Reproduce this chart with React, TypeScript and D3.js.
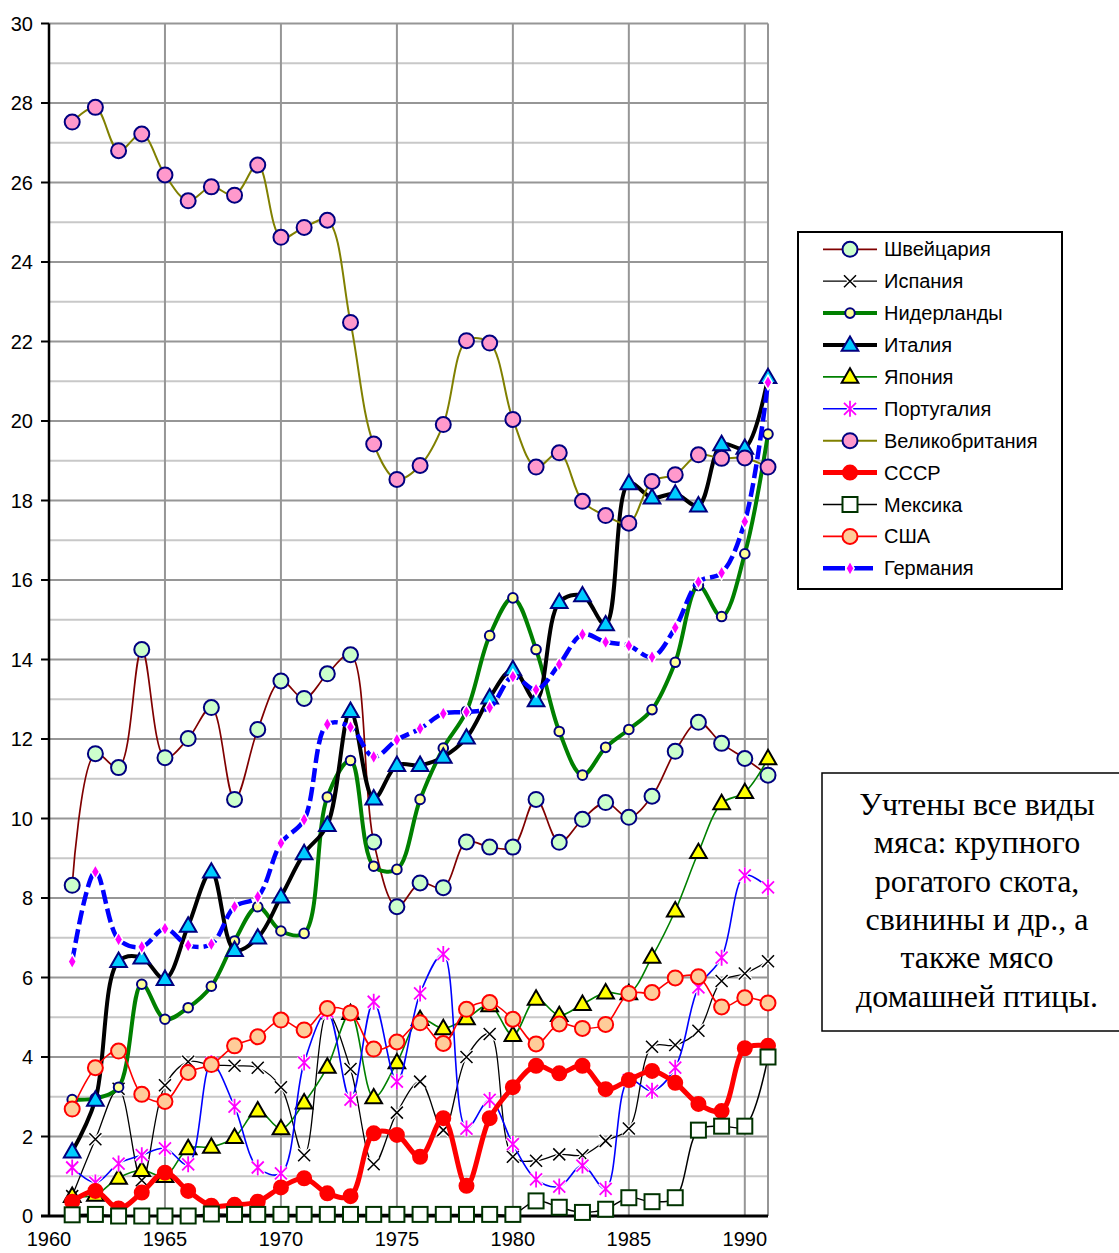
import React from 'react';
import * as d3 from 'd3';

// Production of meat per capita, 1961-1991
const years = [1961, 1962, 1963, 1964, 1965, 1966, 1967, 1968, 1969, 1970, 1971, 1972, 1973, 1974, 1975, 1976,
    1977, 1978, 1979, 1980, 1981, 1982, 1983, 1984, 1985, 1986, 1987, 1988, 1989, 1990, 1991];
const xTicks = [1960, 1965, 1970, 1975, 1980, 1985, 1990];
const yTicks = [0, 2, 4, 6, 8, 10, 12, 14, 16, 18, 20, 22, 24, 26, 28, 30];

const swiss = [8.32, 11.63, 11.28, 14.25, 11.53, 12.01, 12.79, 10.48, 12.24, 13.46, 13.02, 13.64, 14.12, 9.41, 7.78, 8.38,
    8.26, 9.41, 9.28, 9.28, 10.48, 9.4, 9.98, 10.4, 10.03, 10.56, 11.69, 12.42, 11.89, 11.51, 11.09];
const spain = [0.5, 1.93, 3.2, 0.9, 3.29, 3.88, 3.8, 3.78, 3.73, 3.24, 1.53, 5.1, 3.7, 1.3, 2.6, 3.38,
    2.16, 4.0, 4.58, 1.49, 1.39, 1.55, 1.53, 1.89, 2.2, 4.26, 4.3, 4.66, 5.91, 6.1, 6.41];
const netherlands = [2.93, 2.96, 3.24, 5.83, 4.95, 5.24, 5.78, 6.92, 7.78, 7.17, 7.11, 10.54, 11.46, 8.8, 8.72, 10.48,
    11.77, 12.7, 14.6, 15.55, 14.25, 12.19, 11.09, 11.79, 12.24, 12.74, 13.93, 15.86, 15.08, 16.66, 19.67];
const italy = [1.62, 2.92, 6.41, 6.5, 5.96, 7.3, 8.66, 6.69, 7.0, 8.03, 9.12, 9.83, 12.7, 10.5, 11.34, 11.34,
    11.55, 12.03, 13.04, 13.75, 12.97, 15.44, 15.61, 14.88, 18.43, 18.07, 18.17, 17.87, 19.41, 19.32, 21.1];
const japan = [0.5, 0.53, 0.96, 1.15, 1.0, 1.7, 1.74, 1.98, 2.65, 2.2, 2.85, 3.75, 5.1, 2.98, 3.86, 4.95,
    4.72, 4.97, 5.3, 4.55, 5.46, 5.05, 5.33, 5.62, 5.6, 6.52, 7.68, 9.15, 10.38, 10.66, 11.51];
const portugal = [1.22, 0.84, 1.32, 1.53, 1.7, 1.3, 3.84, 2.75, 1.22, 1.07, 3.86, 5.14, 2.93, 5.39, 3.38, 5.6,
    6.59, 2.2, 2.92, 1.81, 0.92, 0.74, 1.27, 0.68, 3.42, 3.15, 3.73, 5.75, 6.5, 8.57, 8.27];
const britain = [27.52, 27.89, 26.8, 27.22, 26.19, 25.54, 25.89, 25.68, 26.44, 24.62, 24.87, 25.05, 22.48, 19.42, 18.53, 18.88,
    19.91, 22.02, 21.96, 20.04, 18.84, 19.2, 17.98, 17.62, 17.43, 18.48, 18.65, 19.15, 19.06, 19.07, 18.84];
const ussr = [0.36, 0.63, 0.19, 0.59, 1.09, 0.63, 0.26, 0.28, 0.36, 0.72, 0.95, 0.57, 0.5, 2.08, 2.04, 1.49,
    2.46, 0.76, 2.46, 3.24, 3.78, 3.59, 3.78, 3.19, 3.42, 3.65, 3.35, 2.82, 2.64, 4.22, 4.28];
const mexico = [0.03, 0.04, 0, 0, 0, 0, 0.05, 0.04, 0.04, 0.04, 0.04, 0.04, 0.04, 0.04, 0.04, 0.04,
    0.04, 0.04, 0.04, 0.04, 0.38, 0.22, 0.09, 0.17, 0.46, 0.36, 0.46, 2.16, 2.26, 2.26, 4.0];
const usa = [2.69, 3.73, 4.15, 3.06, 2.88, 3.61, 3.81, 4.28, 4.51, 4.93, 4.68, 5.22, 5.11, 4.2, 4.38, 4.86,
    4.34, 5.2, 5.37, 4.95, 4.33, 4.83, 4.72, 4.82, 5.6, 5.62, 5.99, 6.02, 5.26, 5.49, 5.36];
const germany = [6.4, 8.66, 6.96, 6.77, 7.23, 6.81, 6.84, 7.78, 8.03, 9.38, 9.97, 12.37, 12.3, 11.55, 11.98, 12.26,
    12.64, 12.68, 12.79, 13.57, 13.24, 13.88, 14.63, 14.44, 14.35, 14.06, 14.8, 15.95, 16.18, 17.47, 20.97];

const noteLines = ['Учтены все виды', 'мяса: крупного', 'рогатого скота,', 'свинины и др., а', 'также мясо', 'домашней птицы.'];

const series = [
    { name: 'Швейцария', values: swiss, color: '#800000', lw: 1.7, marker: 'circle', fill: '#CCFFCC', stroke: '#000080', r: 7.5 },
    { name: 'Испания', values: spain, color: '#000000', lw: 1.3, marker: 'x' },
    { name: 'Нидерланды', values: netherlands, color: '#008000', lw: 4, marker: 'circle', fill: '#FFFF99', stroke: '#000080', r: 4.8 },
    { name: 'Италия', values: italy, color: '#000000', lw: 4, marker: 'triangle', fill: '#00CCFF', stroke: '#000080' },
    { name: 'Япония', values: japan, color: '#008000', lw: 1.6, marker: 'triangle', fill: '#FFFF00', stroke: '#000000' },
    { name: 'Португалия', values: portugal, color: '#0000FF', lw: 1.6, marker: 'star' },
    { name: 'Великобритания', values: britain, color: '#808000', lw: 2, marker: 'circle', fill: '#FF99CC', stroke: '#000080', r: 7.5 },
    { name: 'СССР', values: ussr, color: '#FF0000', lw: 5, marker: 'circle', fill: '#FF0000', stroke: '#FF0000', r: 7 },
    { name: 'Мексика', values: mexico, color: '#000000', lw: 1.5, marker: 'square' },
    { name: 'США', values: usa, color: '#FF0000', lw: 1.6, marker: 'circle', fill: '#FFCC99', stroke: '#FF0000', r: 7.5 },
    { name: 'Германия', values: germany, color: '#0000FF', lw: 4.5, marker: 'diamond', dash: '14,5' },
];

const x = d3.scaleLinear().domain([1960, 1991]).range([49, 768]);
const y = d3.scaleLinear().domain([0, 30]).range([1216, 23.5]);

const line = d3.line<number>()
    .x((_, i) => x(years[i]))
    .y(d => y(d))
    .curve(d3.curveCatmullRom.alpha(0.5));

const triPath = d3.symbol(d3.symbolTriangle, 120)() as string;
const diaPath = d3.symbol(d3.symbolDiamond, 60)() as string;

function Marker({ s, cx, cy }: any) {
    const t = `translate(${cx},${cy})`;
    switch (s.marker) {
        case 'circle':
            return <circle cx={cx} cy={cy} r={s.r} fill={s.fill} stroke={s.stroke} strokeWidth={2} />;
        case 'x':
            return <g transform={t}>
                <path d="M-6,-6L6,6M-6,6L6,-6" stroke="#fff" strokeWidth={4} />
                <path d="M-6,-6L6,6M-6,6L6,-6" stroke="#000" strokeWidth={1.5} />
            </g>;
        case 'triangle':
            return <path transform={`translate(${cx},${cy + 1})`} d={triPath} fill={s.fill} stroke={s.stroke} strokeWidth={2} />;
        case 'star':
            return <g transform={t}>
                <path d="M-6,-6L6,6M-6,6L6,-6M0,-8L0,8" stroke="#fff" strokeWidth={4} />
                <path d="M-6,-6L6,6M-6,6L6,-6M0,-8L0,8" stroke="#FF00FF" strokeWidth={1.8} />
            </g>;
        case 'square':
            return <rect x={cx - 7.5} y={cy - 7.5} width={15} height={15} fill="#fff" stroke="#003300" strokeWidth={2} />;
        case 'diamond':
            return <path transform={t} d={diaPath} fill="#FF00FF" stroke="#fff" strokeWidth={1.5} />;
        default:
            return null;
    }
}

export default function App() {
    const minor = d3.range(1, 30, 2);
    const legendX = 798, legendY = 232;
    return (
        <svg width={1119} height={1253} style={{ position: 'absolute', left: 0, top: 0, background: '#fff' }}
            fontFamily="'Liberation Sans', Arial, sans-serif">
            {/* grid */}
            {minor.map(v => <line key={'m' + v} x1={x(1960)} x2={x(1991)} y1={y(v)} y2={y(v)} stroke="#C8C8C8" strokeWidth={2} />)}
            {yTicks.map(v => <line key={'g' + v} x1={x(1960)} x2={x(1991)} y1={y(v)} y2={y(v)} stroke="#969696" strokeWidth={2} />)}
            {xTicks.concat([1991]).map(v => <line key={'v' + v} x1={x(v)} x2={x(v)} y1={y(30)} y2={y(0)} stroke="#969696" strokeWidth={2} />)}

            {/* axes */}
            <line x1={x(1960)} x2={x(1960)} y1={y(30)} y2={y(0)} stroke="#000" strokeWidth={2.5} />
            <line x1={x(1960) - 8} x2={x(1991)} y1={y(0)} y2={y(0)} stroke="#000" strokeWidth={3} />
            {yTicks.map(v => <g key={'t' + v}>
                <line x1={x(1960) - 8} x2={x(1960)} y1={y(v)} y2={y(v)} stroke="#000" strokeWidth={2} />
                <text x={33} y={y(v)} dy="0.35em" textAnchor="end" fontSize={20}>{v}</text>
            </g>)}
            {xTicks.map(v => <text key={'x' + v} x={x(v)} y={1246} textAnchor="middle" fontSize={20}>{v}</text>)}

            {/* series */}
            {series.map(s => <g key={s.name}>
                <path d={line(s.values) as string} fill="none" stroke={s.color} strokeWidth={s.lw}
                    strokeDasharray={s.dash} strokeLinejoin="round" />
                {s.values.map((v, i) => <Marker key={i} s={s} cx={x(years[i])} cy={y(v)} />)}
            </g>)}

            {/* legend */}
            <rect x={legendX} y={legendY} width={264} height={357} fill="#fff" stroke="#000" strokeWidth={2} />
            {series.map((s, i) => {
                const cy = 249.3 + i * 31.9;
                return <g key={'l' + s.name}>
                    <line x1={823} x2={877} y1={cy} y2={cy} stroke={s.color} strokeWidth={s.lw}
                        strokeDasharray={s.dash ? '22,6' : undefined} />
                    <Marker s={s} cx={850} cy={cy} />
                    <text x={884} y={cy} dy="0.35em" fontSize={20}>{s.name}</text>
                </g>;
            })}

            {/* note */}
            <rect x={822} y={773} width={300} height={258} fill="#fff" stroke="#000" strokeWidth={1.5} />
            {noteLines.map((t, i) => <text key={'n' + i} x={977} y={815 + i * 38.3} textAnchor="middle"
                fontFamily="'Liberation Serif', 'Times New Roman', serif" fontSize={32}>{t}</text>)}
        </svg>
    );
}
